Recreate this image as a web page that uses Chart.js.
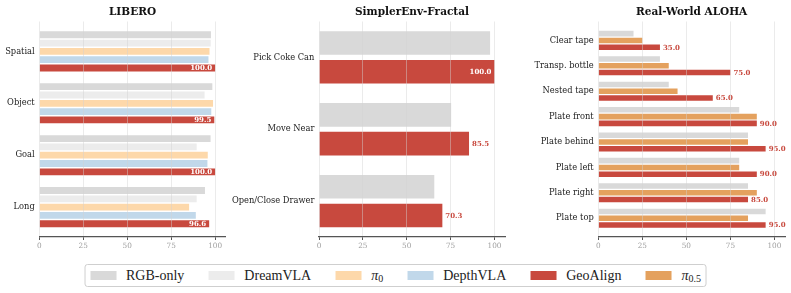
<!DOCTYPE html>
<html lang="en">
<head>
    <meta charset="UTF-8">
    <title>GeoAlign results</title>
    <script src="https://cdn.jsdelivr.net/npm/chart.js"></script>
    <style>
        body { margin: 0; background: #fff; width: 791px; height: 293px; position: relative; overflow: hidden; }
        canvas { position: absolute; top: 0; }
        #legend {
            position: absolute; top: 264px; left: 50%; transform: translateX(-50%);
            height: 21px; border: 1px solid #cfcfcf; border-radius: 3px;
            display: flex; align-items: center; padding: 0 5px; white-space: nowrap;
            font-family: "Liberation Serif", serif; font-size: 14px; color: #222;
        }
        .item { display: flex; align-items: center; margin-right: 24px; }
        .item:last-child { margin-right: 0; }
        .sw { width: 26px; height: 9px; margin-right: 10px; }
        .pi { font-style: italic; }
        .pi sub { font-style: normal; font-size: 10px; vertical-align: -2px; }
    </style>
</head>
<body>
<canvas id="libero" width="230" height="253" style="left:0px"></canvas>
<canvas id="simpler" width="295" height="253" style="left:215px"></canvas>
<canvas id="aloha" width="271" height="253" style="left:520px"></canvas>
<div id="legend"></div>

<script>
    // colours
    const colRgb = '#d9d9d9';
    const colDream = '#ececec';
    const colPi0 = '#fdd8aa';
    const colDepth = '#c1d8ea';
    const colGeo = '#c8493e';
    const colPi05 = '#e4a15e';

    // LIBERO
    const liberoTasks = ['Spatial', 'Object', 'Goal', 'Long'];
    const liberoRgb = [97.6, 98.4, 97.4, 94.2];
    const liberoDream = [97.5, 94.0, 89.5, 89.5];
    const liberoPi0 = [96.8, 98.8, 95.8, 85.2];
    const liberoDepth = [96.2, 97.8, 95.6, 89.0];
    const liberoGeo = [100.0, 99.5, 100.0, 96.6];

    // SimplerEnv-Fractal
    const simplerTasks = ['Pick Coke Can', 'Move Near', 'Open/Close Drawer'];
    const simplerRgb = [97.5, 75.3, 65.7];
    const simplerGeo = [100.0, 85.5, 70.3];

    // Real-World ALOHA
    const alohaTasks = ['Clear tape', 'Transp. bottle', 'Nested tape', 'Plate front',
                        'Plate behind', 'Plate left', 'Plate right', 'Plate top'];
    const alohaRgb = [20, 35, 40, 80, 85, 80, 85, 95];
    const alohaPi05 = [25, 40, 45, 90, 85, 80, 90, 85];
    const alohaGeo = [35, 75, 65, 90, 95, 90, 85, 95];

    const xTicks = [0, 25, 50, 75, 100];

    // value labels on the GeoAlign bars
    const valueLabels = {
        id: 'valueLabels',
        afterDatasetsDraw(chart, args, opts) {
            const ctx = chart.ctx;
            const ds = chart.data.datasets.findIndex(d => d.label === 'GeoAlign');
            const meta = chart.getDatasetMeta(ds);
            ctx.save();
            ctx.font = 'bold 7px "DejaVu Serif"';
            ctx.textBaseline = 'middle';
            meta.data.forEach((bar, i) => {
                const v = chart.data.datasets[ds].data[i].x;
                const inside = v >= opts.insideFrom;
                ctx.fillStyle = inside ? '#fff' : colGeo;
                ctx.textAlign = inside ? 'right' : 'left';
                ctx.fillText(v.toFixed(1), inside ? bar.x - 3 : bar.x + 3, bar.y + 0.5);
            });
            ctx.restore();
        }
    };

    function makeChart(id, title, tasks, series, yWidth, yMin, yMax, padRight, insideFrom) {
        return new Chart(document.getElementById(id), {
            type: 'bar',
            data: {
                datasets: series.map(s => ({
                    label: s.label,
                    data: s.values.map((v, i) => ({ x: v, y: i })),
                    backgroundColor: s.color,
                    categoryPercentage: 0.8,
                    barPercentage: 0.82
                }))
            },
            options: {
                indexAxis: 'y',
                responsive: false,
                animation: false,
                layout: { padding: { left: 0, right: padRight, top: 0, bottom: 0 } },
                plugins: {
                    legend: { display: false },
                    tooltip: { enabled: false },
                    title: {
                        display: true, text: title, fullSize: false, color: '#111',
                        font: { family: 'DejaVu Serif', size: 10.5, weight: 'bold' },
                        padding: { top: 5.5, bottom: 3.4 }
                    },
                    valueLabels: { insideFrom: insideFrom }
                },
                scales: {
                    x: {
                        type: 'linear', min: 0, max: 106,
                        afterBuildTicks: s => { s.ticks = xTicks.map(v => ({ value: v })); },
                        afterFit: s => { s.height = 16; },
                        grid: { color: 'rgba(210,210,210,0.45)', z: 1, tickColor: '#555', tickLength: 3 },
                        border: { color: '#555', width: 1.3, z: 1 },
                        ticks: { color: '#a0a0a0', padding: 2, font: { family: 'DejaVu Serif', size: 7.3 } }
                    },
                    y: {
                        type: 'linear', reverse: true, offset: false, min: yMin, max: yMax,
                        afterBuildTicks: s => { s.ticks = tasks.map((t, i) => ({ value: i })); },
                        afterFit: s => { s.width = yWidth; },
                        grid: { display: false, drawTicks: false },
                        border: { display: false },
                        ticks: {
                            autoSkip: false, padding: 4.6, color: '#222',
                            font: { family: 'DejaVu Serif', size: 8.3 },
                            callback: v => tasks[v]
                        }
                    }
                }
            },
            plugins: [valueLabels]
        });
    }

    makeChart('libero', 'LIBERO', liberoTasks, [
        { label: 'RGB-only', values: liberoRgb, color: colRgb },
        { label: 'DreamVLA', values: liberoDream, color: colDream },
        { label: 'pi0', values: liberoPi0, color: colPi0 },
        { label: 'DepthVLA', values: liberoDepth, color: colDepth },
        { label: 'GeoAlign', values: liberoGeo, color: colGeo }
    ], 39.3, -0.575, 3.575, 4.3, 0);

    makeChart('simpler', 'SimplerEnv-Fractal', simplerTasks, [
        { label: 'RGB-only', values: simplerRgb, color: colRgb },
        { label: 'GeoAlign', values: simplerGeo, color: colGeo }
    ], 104, -0.5, 2.5, 5, 99);

    makeChart('aloha', 'Real-World ALOHA', alohaTasks, [
        { label: 'RGB-only', values: alohaRgb, color: colRgb },
        { label: 'pi0.5', values: alohaPi05, color: colPi05 },
        { label: 'GeoAlign', values: alohaGeo, color: colGeo }
    ], 78.3, -0.745, 7.74, 6, 101);

    // shared legend
    const legendItems = [
        { html: 'RGB-only', color: colRgb },
        { html: 'DreamVLA', color: colDream },
        { html: '<span class="pi">π<sub>0</sub></span>', color: colPi0 },
        { html: 'DepthVLA', color: colDepth },
        { html: 'GeoAlign', color: colGeo },
        { html: '<span class="pi">π<sub>0.5</sub></span>', color: colPi05 }
    ];
    document.getElementById('legend').innerHTML = legendItems.map(it =>
        `<div class="item"><div class="sw" style="background:${it.color}"></div><span>${it.html}</span></div>`
    ).join('');
</script>
</body>
</html>
